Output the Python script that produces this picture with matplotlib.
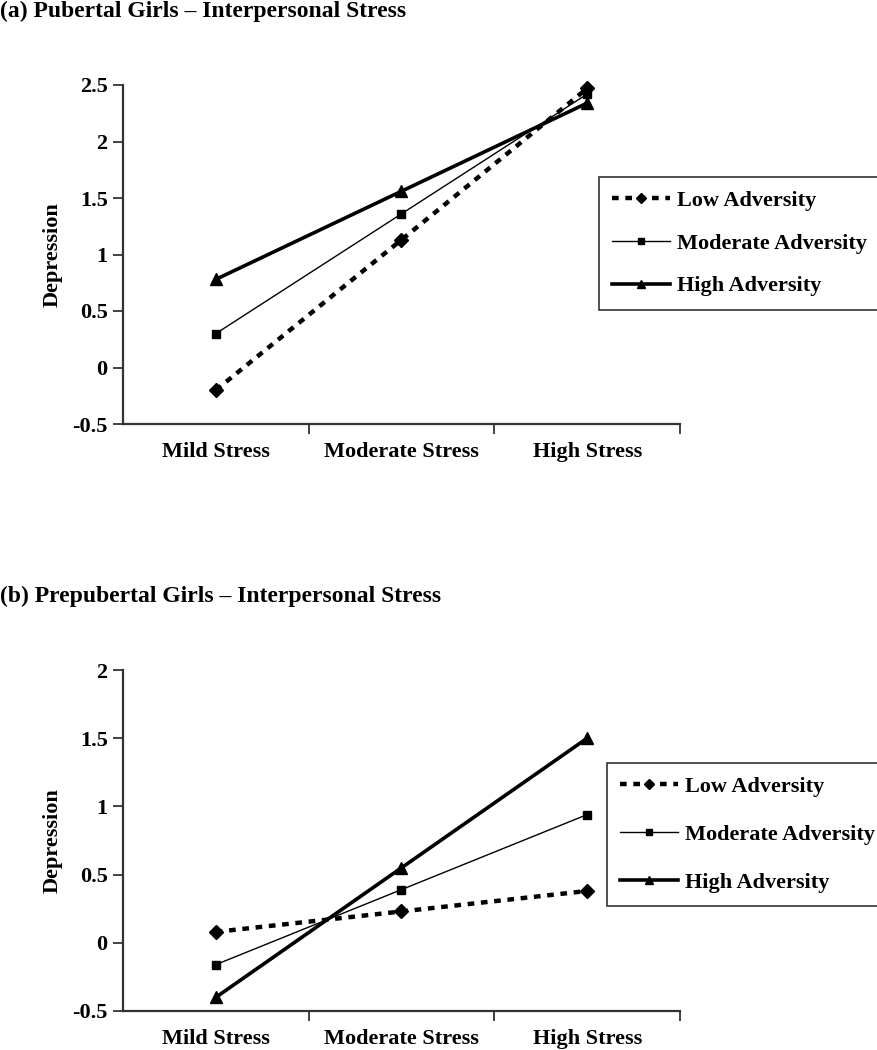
import matplotlib
matplotlib.use("Agg")
import matplotlib.pyplot as plt
from matplotlib.ticker import FixedLocator, NullFormatter

plt.rcParams['font.family'] = ['Liberation Serif', 'DejaVu Serif']
plt.rcParams['font.weight'] = 'bold'

categories = ["Mild Stress", "Moderate Stress", "High Stress"]
series_names = ["Low Adversity", "Moderate Adversity", "High Adversity"]

pubertal_low = [-0.20, 1.13, 2.47]
pubertal_moderate = [0.30, 1.36, 2.42]
pubertal_high = [0.78, 1.56, 2.34]

prepubertal_low = [0.08, 0.23, 0.38]
prepubertal_moderate = [-0.16, 0.39, 0.94]
prepubertal_high = [-0.40, 0.55, 1.50]

top_yticks = [-0.5, 0, 0.5, 1, 1.5, 2, 2.5]
top_yticklabels = ["-0.5", "0", "0.5", "1", "1.5", "2", "2.5"]
bottom_yticks = [-0.5, 0, 0.5, 1, 1.5, 2]
bottom_yticklabels = ["-0.5", "0", "0.5", "1", "1.5", "2"]

W, H = 878, 1050
fig = plt.figure(figsize=(W / 100, H / 100), dpi=100)

styles = [
    dict(linestyle=(0, (1.5, 1.5)), linewidth=3.2, marker='D', markersize=7),
    dict(linestyle='-', linewidth=1.0, marker='s', markersize=6.3),
    dict(linestyle='-', linewidth=2.6, marker='^', markersize=8.5),
]

FS = 16
TFS = 17


def panel(rect, data, yticks, yticklabels, ylim, legend_anchor, spacing, title, title_base):
    ax = fig.add_axes(rect)
    x = list(range(len(categories)))
    handles = []
    for vals, name, st in zip(data, series_names, styles):
        h, = ax.plot(x, vals, color='black', label=name, clip_on=False,
                     markerfacecolor='black', markeredgecolor='black', **st)
        handles.append(h)
    ax.set_xlim(-0.5, len(categories) - 0.5)
    ax.set_ylim(*ylim)
    ax.set_yticks(yticks)
    ax.set_yticklabels(yticklabels, fontsize=FS, fontweight='bold')
    ax.xaxis.set_major_locator(FixedLocator([0.5, 1.5, 2.5]))
    ax.xaxis.set_major_formatter(NullFormatter())
    ax.xaxis.set_minor_locator(FixedLocator(x))
    ax.set_xticklabels(categories, minor=True, fontsize=FS, fontweight='bold')
    ax.tick_params(axis='x', which='major', direction='out', length=7, width=1.3, color='#333333')
    ax.tick_params(axis='x', which='minor', length=0, pad=13)
    ax.tick_params(axis='y', direction='out', length=7, width=1.3, color='#333333', pad=4)
    for s in ['top', 'right']:
        ax.spines[s].set_visible(False)
    for s in ['left', 'bottom']:
        ax.spines[s].set_linewidth(1.6)
        ax.spines[s].set_color('#333333')
    ax.set_ylabel("Depression", fontsize=FS, fontweight='bold', labelpad=7)
    leg = ax.legend(handles=handles, loc='upper left',
                    bbox_to_anchor=legend_anchor, bbox_transform=fig.transFigure,
                    borderaxespad=0, frameon=True, fancybox=False,
                    edgecolor='black', handlelength=2.6, labelspacing=spacing,
                    handletextpad=0.3, borderpad=0.6, markerscale=0.7,
                    prop={'size': FS, 'weight': 'bold'})
    leg.get_frame().set_linewidth(1.2)
    fig.text(0.0, 1 - title_base / H, title, fontsize=TFS, fontweight='bold',
             va='baseline', ha='left')
    return ax


def frac_rect(x0, y0, x1, y1):
    return [x0 / W, 1 - y1 / H, (x1 - x0) / W, (y1 - y0) / H]


panel(frac_rect(123, 85, 680, 424),
      [pubertal_low, pubertal_moderate, pubertal_high],
      top_yticks, top_yticklabels, (-0.5, 2.5),
      (599 / W, 1 - 177 / H), 1.0,
      "(a) Pubertal Girls \u2013 Interpersonal Stress", 17)

panel(frac_rect(123, 670, 680, 1011),
      [prepubertal_low, prepubertal_moderate, prepubertal_high],
      bottom_yticks, bottom_yticklabels, (-0.5, 2.0),
      (607 / W, 1 - 763 / H), 1.23,
      "(b) Prepubertal Girls \u2013 Interpersonal Stress", 602)

fig.savefig("out.png", dpi=100)
